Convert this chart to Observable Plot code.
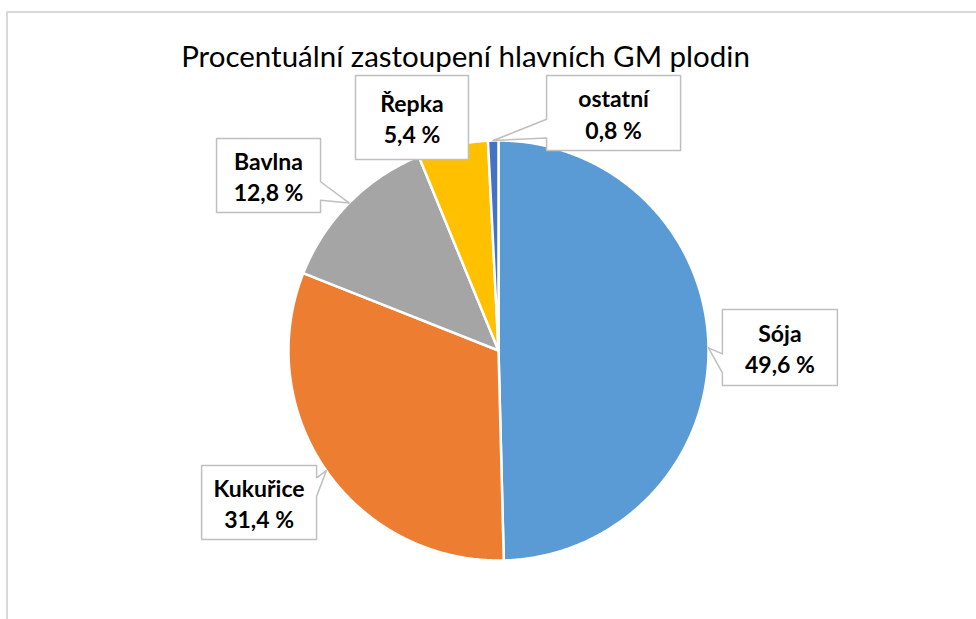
<!DOCTYPE html>
<html><head><meta charset="utf-8">
<script src="https://cdn.jsdelivr.net/npm/d3@7"></script>
<script src="https://cdn.jsdelivr.net/npm/@observablehq/plot@0.6"></script>
<style>
html,body{margin:0;padding:0;background:#fff;}
#wrap{position:relative;width:976px;height:619px;overflow:hidden;}
#border{position:absolute;left:6px;top:11px;width:1200px;height:1200px;border-left:2px solid #d9d9d9;border-top:2px solid #d9d9d9;}
#chart{position:absolute;left:0;top:0;}
</style></head><body>
<div id="wrap"><div id="border"></div><div id="chart"></div></div>
<script>
// ---- data ----
const categories = ["Sója", "Kukuřice", "Bavlna", "Řepka", "ostatní"];
const shares = [49.6, 31.4, 12.8, 5.4, 0.8];
const colors = ["#5B9BD5", "#ED7D31", "#A5A5A5", "#FFC000", "#4472C4"];
const title = "Procentuální zastoupení hlavních GM plodin";
// ---- label layout (box centres in pie-radius units, box sizes in px) ----
const labelCenters = [[1.340, 0.014], [-1.140, -0.724], [-1.095, 0.833], [-0.412, 1.110], [0.548, 1.131]];
const labelSizes = [[115, 76], [115, 74], [104, 74], [113, 84], [134, 75]];

const CX = 498, CY = 350, R = 210;
const fmt = v => v.toFixed(1).replace(".", ",") + " %";
const total = d3.sum(shares);

// slices
let cum = 0;
const slices = shares.map((v, i) => {
  const a0 = cum / total * 2 * Math.PI;
  cum += v;
  const a1 = cum / total * 2 * Math.PI;
  const n = Math.max(2, Math.ceil((a1 - a0) / (Math.PI / 360)));
  const pts = [{x: 0, y: 0}];
  for (let k = 0; k <= n; k++) {
    const a = a0 + (a1 - a0) * k / n;
    pts.push({x: Math.sin(a), y: Math.cos(a)});
  }
  return {name: categories[i], color: colors[i], pts, mid: (a0 + a1) / 2};
});

// callouts (wedge rectangle shape)
const callouts = slices.map((s, i) => {
  const [cx, cy] = labelCenters[i];
  const w = labelSizes[i][0] / R, h = labelSizes[i][1] / R;
  const tx = Math.sin(s.mid), ty = Math.cos(s.mid);
  const L = cx - w / 2, Rr = cx + w / 2, T = cy + h / 2, B = cy - h / 2;
  const dx = tx - cx, dy = ty - cy;
  const inside = tx >= L && tx <= Rr && ty >= B && ty <= T;
  let pts;
  if (inside) {
    pts = [[L, T], [Rr, T], [Rr, B], [L, B]];
  } else if (Math.abs(dx) * h > Math.abs(dy) * w) {
    const y1 = dy > 0 ? T - 2 * h / 12 : T - 7 * h / 12;
    const y2 = dy > 0 ? T - 5 * h / 12 : T - 10 * h / 12;
    if (dx > 0) pts = [[L, T], [Rr, T], [Rr, y1], [tx, ty], [Rr, y2], [Rr, B], [L, B]];
    else pts = [[L, T], [Rr, T], [Rr, B], [L, B], [L, y2], [tx, ty], [L, y1]];
  } else {
    const x1 = dx < 0 ? L + 2 * w / 12 : L + 7 * w / 12;
    const x2 = dx < 0 ? L + 5 * w / 12 : L + 10 * w / 12;
    if (dy > 0) pts = [[L, T], [x1, T], [tx, ty], [x2, T], [Rr, T], [Rr, B], [L, B]];
    else pts = [[L, T], [Rr, T], [Rr, B], [x2, B], [tx, ty], [x1, B], [L, B]];
  }
  return pts.map(([x, y]) => ({x, y, name: s.name}));
}).flat();

const labels = slices.map((s, i) => ({
  x: labelCenters[i][0], y: labelCenters[i][1],
  text: s.name + "\n" + fmt(shares[i])
}));

const chart = Plot.plot({
  width: 976, height: 619, margin: 0,
  style: {background: "transparent", overflow: "visible"},
  x: {domain: [-1, 1], range: [CX - R, CX + R], axis: null},
  y: {domain: [-1, 1], range: [CY + R, CY - R], axis: null},
  marks: [
    ...slices.map(s => Plot.line(s.pts, {
      x: "x", y: "y", fill: s.color, stroke: "white", strokeWidth: 2.5,
      strokeLinejoin: "round", curve: "linear-closed"
    })),
    Plot.line(callouts, {
      x: "x", y: "y", z: "name", fill: "white", stroke: "#bfbfbf", strokeWidth: 1.5,
      curve: "linear-closed"
    }),
    Plot.text(labels, {
      x: "x", y: "y", text: "text", fontSize: 23, fontWeight: "bold",
      fontFamily: "Lato", lineHeight: 1.36, fill: "#000"
    }),
    Plot.text([title], {
      frameAnchor: "top", text: d => d, dx: -23, dy: 57, lineAnchor: "middle",
      fontSize: 29.5, fontFamily: "Lato", fill: "#000"
    })
  ]
});
document.getElementById("chart").appendChild(chart);
</script>
</body></html>
